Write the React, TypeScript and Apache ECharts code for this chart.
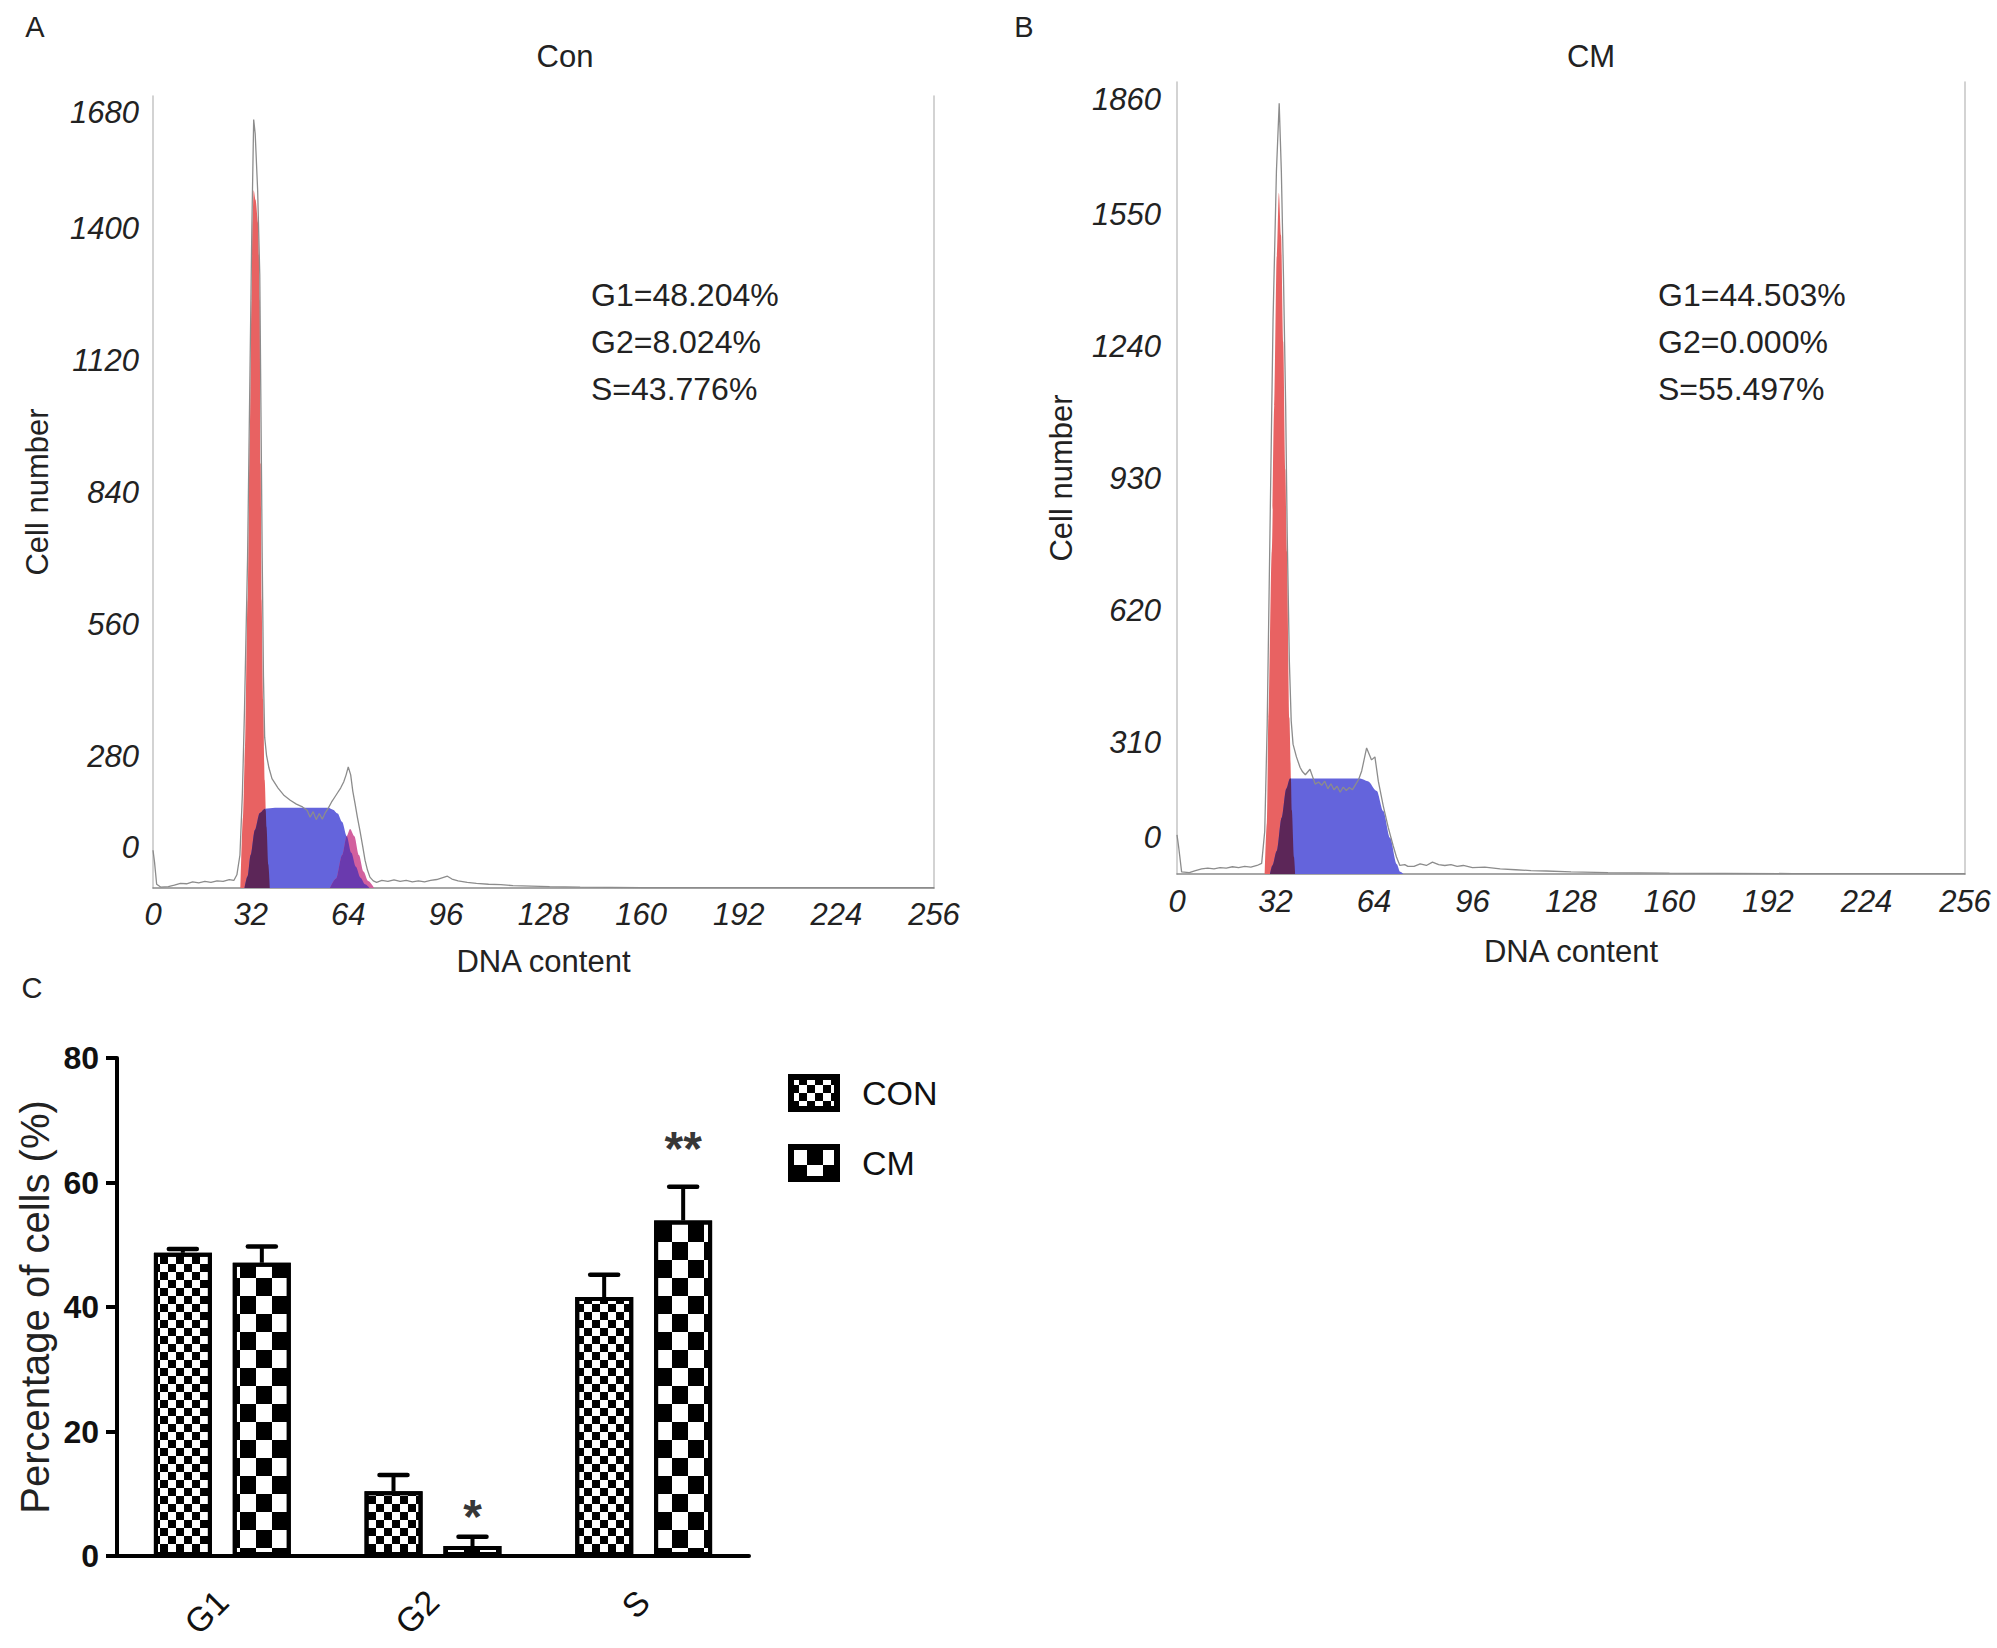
import React, { useEffect, useRef } from 'react';
import * as echarts from 'echarts';

// ---------- Panel A (Con) histogram ----------
const conRaw: number[][] = [
  [0, 80], [0.5, 55], [1.2, 8], [2.5, 2], [5, 3], [7, 6], [9, 10], [11, 9], [13, 13], [15, 11], [17, 14], [19, 12],
  [21, 15], [23, 14], [25, 18], [26.5, 16], [27.5, 28], [28.5, 70], [29.3, 200], [30, 380], [31, 700],
  [31.8, 1100], [32.4, 1400], [33, 1630], [33.5, 1600], [34.3, 1480], [35, 1300], [35.4, 1000], [35.8, 700],
  [36.2, 450], [36.6, 320], [37.2, 282], [38, 255], [39, 232], [41, 212], [43, 196], [45, 186], [47, 178],
  [49, 172], [50.5, 165], [51.5, 150], [52.5, 162], [53.5, 145], [54.5, 158], [55.5, 146], [56.5, 160],
  [57.5, 170], [58.5, 182], [59.5, 192], [60.5, 202], [61.5, 212], [62.5, 225], [63.3, 240], [64, 257],
  [64.8, 240], [65.5, 205], [66.2, 180], [67, 150], [67.8, 123], [68.7, 90], [69.5, 59], [70.3, 38],
  [71.1, 23], [72.2, 15], [73.3, 12], [75, 16], [77, 14], [79, 17], [81, 14], [83, 16], [85, 13], [87, 15],
  [89, 13], [91, 16], [93, 18], [95, 22], [96.5, 25], [98, 19], [100, 15], [103, 12], [106, 10], [110, 8],
  [114, 7], [118, 5], [124, 4], [130, 3], [140, 2], [160, 1], [200, 1], [256, 1],
];
const conG1: number[][] = [
  [28.7, 0], [29.5, 150], [30.2, 300], [31, 611], [31.7, 950], [32.3, 1247], [32.6, 1410], [33, 1480],
  [33.6, 1460], [34.5, 1410], [35, 1247], [35.3, 900], [35.6, 611], [36.1, 400], [36.6, 229], [37.2, 130],
  [37.8, 50], [38.3, 0],
];
const conS: number[][] = [
  [30, 0], [31, 25], [32, 70], [33.4, 123], [35, 159], [36.7, 168], [40, 170], [50, 170], [57.5, 170],
  [59, 166], [60.5, 158], [62, 140], [63.5, 110], [65, 75], [66.5, 45], [68, 22], [69.5, 8], [71, 0],
];
const conG2: number[][] = [
  [58, 0], [60, 20], [62, 70], [63.5, 110], [64.6, 125], [66, 110], [67.5, 70], [69, 35], [70.5, 15], [72.5, 0],
];
// dark regions where the fitted peaks overlap
const conG1S: number[][] = [
  [30, 0], [31, 25], [32, 70], [33.4, 123], [35, 159], [36.7, 168], [36.95, 165], [37.2, 130], [37.8, 50], [38.3, 0],
];
const conSG2: number[][] = [
  [58, 0], [60, 20], [62, 70], [63.5, 110], [65, 75], [66.5, 45], [68, 22], [69.5, 8], [71, 0],
];
const conStats = ['G1=48.204%', 'G2=8.024%', 'S=43.776%'];

// ---------- Panel B (CM) histogram ----------
const cmRaw: number[][] = [
  [0, 92], [0.6, 60], [1.5, 5], [4, 3], [6, 8], [8, 12], [10, 14], [12, 12], [14, 15], [16, 14], [18, 17],
  [20, 15], [22, 18], [24, 16], [26, 20], [27.5, 25], [28.5, 100], [29.3, 350], [30.2, 800], [31.2, 1300],
  [32.3, 1650], [33.2, 1810], [33.9, 1650], [34.6, 1400], [35.3, 1100], [35.8, 800], [36.5, 500], [37.1, 360],
  [37.7, 305], [38.8, 275], [40, 250], [40.8, 240], [41.7, 233], [43.2, 246], [44.9, 211], [46, 216],
  [47, 208], [48, 218], [49, 200], [50, 212], [51, 198], [52, 206], [53, 192], [54, 204], [55, 196],
  [56, 203], [57, 198], [58, 210], [59, 222], [60, 242], [61.6, 296], [63.2, 268], [64.3, 275], [65.4, 218],
  [67, 160], [68.6, 110], [70.2, 67], [71.3, 40], [72.4, 20], [74, 22], [75, 18], [77, 18], [79, 24],
  [81, 20], [83, 28], [85, 22], [87, 20], [89, 22], [91, 18], [93, 20], [96, 15], [100, 16], [105, 12],
  [110, 10], [115, 8], [120, 7], [128, 5], [140, 3], [160, 2], [200, 1], [256, 1],
];
const cmG1: number[][] = [
  [28.5, 0], [29.2, 120], [29.7, 367], [30.8, 758], [31.6, 1100], [32.4, 1450], [33.1, 1600], [33.8, 1500],
  [34.5, 1250], [35.2, 950], [35.7, 758], [36.5, 367], [37.3, 150], [38, 40], [38.4, 0],
];
const cmS: number[][] = [
  [30.2, 0], [31, 20], [32.4, 54], [34, 132], [35.5, 200], [36.7, 224], [50, 224], [59.5, 224], [62, 218],
  [64.9, 195], [67, 148], [69.2, 85], [71.4, 23], [72.5, 5], [73.5, 0],
];
const cmG1S: number[][] = [
  [30.2, 0], [31, 20], [32.4, 54], [34, 132], [35.5, 200], [36.7, 224], [37, 224], [37.3, 150], [38, 40], [38.4, 0],
];
const cmStats = ['G1=44.503%', 'G2=0.000%', 'S=55.497%'];

// ---------- Panel C bar chart ----------
const phases = ['G1', 'G2', 'S'];
const conMean = [48.7, 10.4, 41.6];
const conErr = [0.6, 2.6, 3.6];
const cmMean = [47.1, 1.6, 53.9];
const cmErr = [2.6, 1.5, 5.4];
const starMarks = [
  { cat: 1, y: 6.4, text: '*' },
  { cat: 2, y: 65.4, text: '**' },
];

const SANS = 'Liberation Sans, Arial, sans-serif';
const RED = '#e86262';
const BLUE = '#6464dc';
const PINK = '#d2609e';
const DARK = '#5c2658';
const PURPLE = '#6a3aae';
const GRAY = '#8c8c8c';

const BAR_W = 58;
const BAR_OFF = 39.5;

function histYAxis(gridIndex: number, max: number, interval: number, loPad: number, hiPad: number, margin: number) {
  const base = { fontSize: 31, fontStyle: 'italic', fontFamily: SANS, color: '#222' };
  return {
    type: 'value', gridIndex, min: 0, max, interval,
    name: 'Cell number', nameLocation: 'middle', nameGap: 100,
    nameTextStyle: { fontSize: 31, fontFamily: SANS, color: '#222' },
    axisLine: { show: true, lineStyle: { color: '#c4c4c4', width: 1.5 } },
    axisTick: { show: false }, splitLine: { show: false },
    axisLabel: {
      ...base, margin,
      formatter: (v: number) => (v === 0 ? '{lo|0}' : v === max ? `{hi|${v}}` : String(v)),
      rich: { lo: { ...base, padding: [0, 0, loPad, 0] }, hi: { ...base, padding: [hiPad, 0, 0, 0] } },
    },
  };
}
function histRightAxis(gridIndex: number, max: number) {
  return {
    type: 'value', gridIndex, min: 0, max, position: 'right',
    axisLine: { show: true, lineStyle: { color: '#c4c4c4', width: 1.5 } },
    axisTick: { show: false }, splitLine: { show: false }, axisLabel: { show: false },
  };
}
function histXAxis(gridIndex: number, margin: number, nameGap: number) {
  return {
    type: 'value', gridIndex, min: 0, max: 256, interval: 32,
    name: 'DNA content', nameLocation: 'middle', nameGap,
    nameTextStyle: { fontSize: 31, fontFamily: SANS, color: '#222' },
    axisLine: { show: true, lineStyle: { color: '#8a8a8a', width: 1.5 } },
    axisTick: { show: false }, splitLine: { show: false },
    axisLabel: { fontSize: 31, fontStyle: 'italic', fontFamily: SANS, color: '#222', margin, formatter: (v: number) => String(v) },
  };
}
function area(name: string, data: number[][], color: string, xi: number, yi: number, z: number) {
  return {
    type: 'line', name, data, xAxisIndex: xi, yAxisIndex: yi, z,
    smooth: 0.3, smoothMonotone: 'x', showSymbol: false, symbol: 'none',
    lineStyle: { width: 0, opacity: 0 }, areaStyle: { color, opacity: 1 },
    silent: true,
  };
}
function rawLine(data: number[][], xi: number, yi: number) {
  return {
    type: 'line', name: 'raw', data, xAxisIndex: xi, yAxisIndex: yi, z: 10,
    showSymbol: false, symbol: 'none', lineStyle: { color: GRAY, width: 1.3 }, silent: true,
  };
}
function statText(lines: string[], x: number, y0: number, dy: number) {
  return lines.map((t, i) => ({
    type: 'text', x, y: y0 + i * dy,
    style: { text: t, fontSize: 32, fontFamily: SANS, fill: '#222', textAlign: 'left', textVerticalAlign: 'middle' },
  }));
}
function label(t: string, x: number, y: number, size: number) {
  return {
    type: 'text', x, y,
    style: { text: t, fontSize: size, fontFamily: SANS, fill: '#222', textAlign: 'center', textVerticalAlign: 'middle' },
  };
}
function errSeries(name: string, mean: number[], err: number[], off: number) {
  return {
    type: 'custom', name, xAxisIndex: 2, yAxisIndex: 4, z: 5,
    data: mean.map((m, i) => [i, m, m + err[i]]),
    renderItem: (_p: any, api: any) => {
      const p0 = api.coord([api.value(0), api.value(1)]);
      const p1 = api.coord([api.value(0), api.value(2)]);
      const x = p0[0] + off;
      return {
        type: 'group',
        children: [
          { type: 'line', shape: { x1: x, y1: p0[1], x2: x, y2: p1[1] }, style: { stroke: '#000', lineWidth: 4 } },
          { type: 'line', shape: { x1: x - 14, y1: p1[1], x2: x + 14, y2: p1[1] }, style: { stroke: '#000', lineWidth: 4.5, lineCap: 'round' } },
        ],
      };
    },
  };
}
function checker(w: number, h: number) {
  return { symbol: 'rect', symbolSize: 1, color: '#000', dashArrayX: [[w, w], [0, w, w, 0]], dashArrayY: [h, 0], rotation: 0 };
}

export default function App() {
  const ref = useRef<HTMLDivElement>(null);
  useEffect(() => {
    document.body.style.margin = '0';
    const chart = echarts.init(ref.current!, undefined, { renderer: 'svg' });
    chart.setOption({
      animation: false,
      backgroundColor: '#fff',
      grid: [
        { left: 153, top: 96, width: 781, height: 792 },
        { left: 1177, top: 82, width: 788, height: 792 },
        { left: 117, top: 1058, width: 632, height: 498 },
      ],
      xAxis: [
        histXAxis(0, 11, 58),
        histXAxis(1, 12, 62),
        {
          type: 'category', gridIndex: 2, data: phases,
          axisLine: { lineStyle: { color: '#000', width: 4 } },
          axisTick: { alignWithLabel: true, length: 14, lineStyle: { color: '#000', width: 4 } },
          axisLabel: { rotate: 45, fontSize: 34, fontFamily: SANS, color: '#111', margin: 40 },
        },
      ],
      yAxis: [
        histYAxis(0, 1680, 280, 82, 32, 14),
        histRightAxis(0, 1680),
        histYAxis(1, 1860, 310, 74, 34, 16),
        histRightAxis(1, 1860),
        {
          type: 'value', gridIndex: 2, min: 0, max: 80, interval: 20,
          name: 'Percentage of cells (%)', nameLocation: 'middle', nameGap: 62,
          nameTextStyle: { fontSize: 40, fontFamily: SANS, color: '#222' },
          axisLine: { show: true, lineStyle: { color: '#000', width: 4 } },
          axisTick: { show: true, length: 11, lineStyle: { color: '#000', width: 4 } },
          splitLine: { show: false },
          axisLabel: { fontSize: 32, fontWeight: 'bold', fontFamily: SANS, color: '#111', margin: 18 },
        },
      ],
      legend: {
        data: ['CON', 'CM'], orient: 'vertical', left: 783, top: 1069,
        itemWidth: 46, itemHeight: 32, itemGap: 32, icon: 'rect',
        itemStyle: { borderWidth: 6, borderColor: '#000' },
        textStyle: { fontSize: 34, lineHeight: 38, fontFamily: SANS, color: '#111', padding: [0, 0, 0, 20] },
      },
      series: [
        area('G1', conG1, RED, 0, 0, 2),
        area('S', conS, BLUE, 0, 0, 3),
        area('G2', conG2, PINK, 0, 0, 4),
        area('G1∩S', conG1S, DARK, 0, 0, 5),
        area('S∩G2', conSG2, PURPLE, 0, 0, 5),
        rawLine(conRaw, 0, 0),
        area('G1', cmG1, RED, 1, 2, 2),
        area('S', cmS, BLUE, 1, 2, 3),
        area('G1∩S', cmG1S, DARK, 1, 2, 5),
        rawLine(cmRaw, 1, 2),
        {
          type: 'bar', name: 'CON', data: conMean, xAxisIndex: 2, yAxisIndex: 4,
          barWidth: BAR_W, barGap: '36%',
          itemStyle: { color: '#fff', borderColor: '#000', borderWidth: 4, decal: checker(8, 8) },
        },
        {
          type: 'bar', name: 'CM', data: cmMean, xAxisIndex: 2, yAxisIndex: 4,
          barWidth: BAR_W, barGap: '36%',
          itemStyle: { color: '#fff', borderColor: '#000', borderWidth: 4, decal: checker(16, 18) },
        },
        errSeries('CON err', conMean, conErr, -BAR_OFF),
        errSeries('CM err', cmMean, cmErr, BAR_OFF),
        {
          type: 'scatter', name: 'sig', xAxisIndex: 2, yAxisIndex: 4, symbolSize: 0,
          data: starMarks.map((s) => [s.cat, s.y]),
          label: {
            show: true, position: 'inside', offset: [BAR_OFF, 0],
            formatter: (p: any) => starMarks[p.dataIndex].text,
            fontSize: 48, fontWeight: 'bold', fontFamily: SANS, color: '#000', textBorderWidth: 0,
          },
        },
      ],
      graphic: [
        label('A', 35, 27, 29),
        label('B', 1024, 27, 29),
        label('C', 32, 988, 29),
        label('Con', 565, 56, 31),
        label('CM', 1591, 56, 31),
        ...statText(conStats, 591, 295, 47),
        ...statText(cmStats, 1658, 295, 47),
      ],
    });
    return () => {
      chart.dispose();
    };
  }, []);
  return <div ref={ref} style={{ width: 1997, height: 1648 }} />;
}
